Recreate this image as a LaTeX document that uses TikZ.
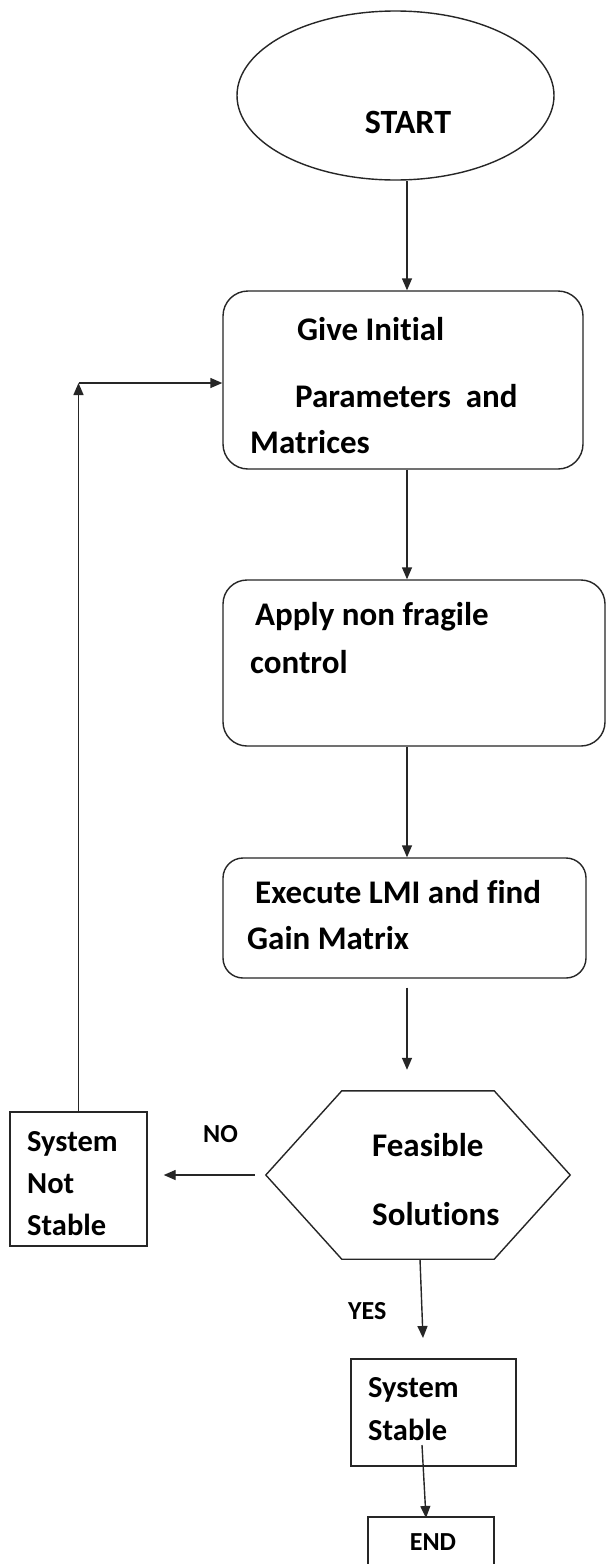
\documentclass[tikz,border=0pt]{standalone}
\usepackage{fontspec}
\setmainfont{Carlito}[Ligatures=NoCommon]
\usetikzlibrary{arrows.meta,shapes.geometric}
\begin{document}
\begin{tikzpicture}[x=1pt,y=-1pt,
  line/.style={draw=black!85,line width=1.4pt},
  arr/.style={draw=black!85,line width=1.4pt,-{Triangle[length=12pt,width=10pt]}},
  box/.style={draw=black!85,line width=1.4pt,inner sep=0pt},
  txt/.style={anchor=base west,inner sep=0pt,font=\fontsize{33}{36}\selectfont\bfseries},
  mid/.style={anchor=base west,inner sep=0pt,font=\fontsize{30.5}{33}\selectfont\bfseries},
  small/.style={anchor=base west,inner sep=0pt,font=\fontsize{26}{28}\selectfont\bfseries}]
\clip (0,0) rectangle (607,1564);
\fill[white] (0,0) rectangle (607,1564);
% start
\node[ellipse,box,minimum width=317pt,minimum height=169pt] (start) at (395.5,95.5) {};
\node[txt,anchor=base,font=\fontsize{34}{36}\selectfont\bfseries] (starttxt) at (408,133) {START};
% box1
\node[box,rounded corners=25pt,minimum width=360pt,minimum height=178pt] (box1) at (403,380) {};
\node[txt] (t1a) at (297,340) {Give Initial};
\node[txt] (t1b) at (295,407) {Parameters\ \ and};
\node[txt] (t1c) at (250,453) {Matrices};
% box2
\node[box,rounded corners=24pt,minimum width=382pt,minimum height=166pt] (box2) at (414,663) {};
\node[txt] (t2a) at (255,625) {Apply non fragile};
\node[txt] (t2b) at (250,673) {control};
% box3
\node[box,rounded corners=20pt,minimum width=363pt,minimum height=120pt] (box3) at (404.5,918) {};
\node[txt] (t3a) at (255,903) {Execute LMI and find};
\node[txt] (t3b) at (247,949) {Gain Matrix};
% hexagon
\node[inner sep=0pt,minimum width=304pt,minimum height=168pt] (hex) at (418,1175) {};
\draw[line] ([xshift=76pt]hex.north west) -- ([xshift=-76pt]hex.north east) -- (hex.east)
  -- ([xshift=-76pt]hex.south east) -- ([xshift=76pt]hex.south west) -- (hex.west) -- cycle;
\node[txt] (t4a) at (372,1156) {Feasible};
\node[txt] (t4b) at (372,1225) {Solutions};
% not stable
\node[box,minimum width=137pt,minimum height=134pt] (ns) at (78.5,1179) {};
\node[mid] (t5a) at (27,1151) {System};
\node[mid] (t5b) at (27,1193) {Not};
\node[mid] (t5c) at (27,1235) {Stable};
\node[small] (no) at (203,1142) {NO};
% stable
\node[box,minimum width=165pt,minimum height=107pt] (ss) at (433.5,1412.5) {};
\node[mid] (t6a) at (368,1397) {System};
\node[mid] (t6b) at (368,1440) {Stable};
\node[small] (yes) at (348,1319) {YES};
% end
\node[box,minimum width=126pt,minimum height=90pt] (endb) at (431,1562) {};
\node[small,anchor=base] (endtxt) at (433,1550) {END};
% connectors
\coordinate (spine) at (407,0);
\draw[arr] (start.south -| spine) -- (box1.north -| spine);
\draw[arr] (box1.south -| spine) -- (box2.north -| spine);
\draw[arr] (box2.south -| spine) -- (box3.north -| spine);
\draw[arr,shorten <=9pt,shorten >=21pt] (box3.south -| spine) -- (hex.north -| spine);
\draw[arr,shorten <=11pt,shorten >=16pt] (hex.west) -- (ns.east |- hex.west);
\coordinate (corner) at (78.5,383);
\draw[arr] (ns.north) -- (corner);
\draw[arr] (corner) -- (box1.west |- corner);
\coordinate (yestip) at (423,1338);
\draw[arr] ([xshift=2pt]hex.south) -- (yestip);
\coordinate (ssin) at (422,1445);
\coordinate (endtip) at (426,1518);
\draw[arr] (ssin) -- (endtip);
\end{tikzpicture}
\end{document}
